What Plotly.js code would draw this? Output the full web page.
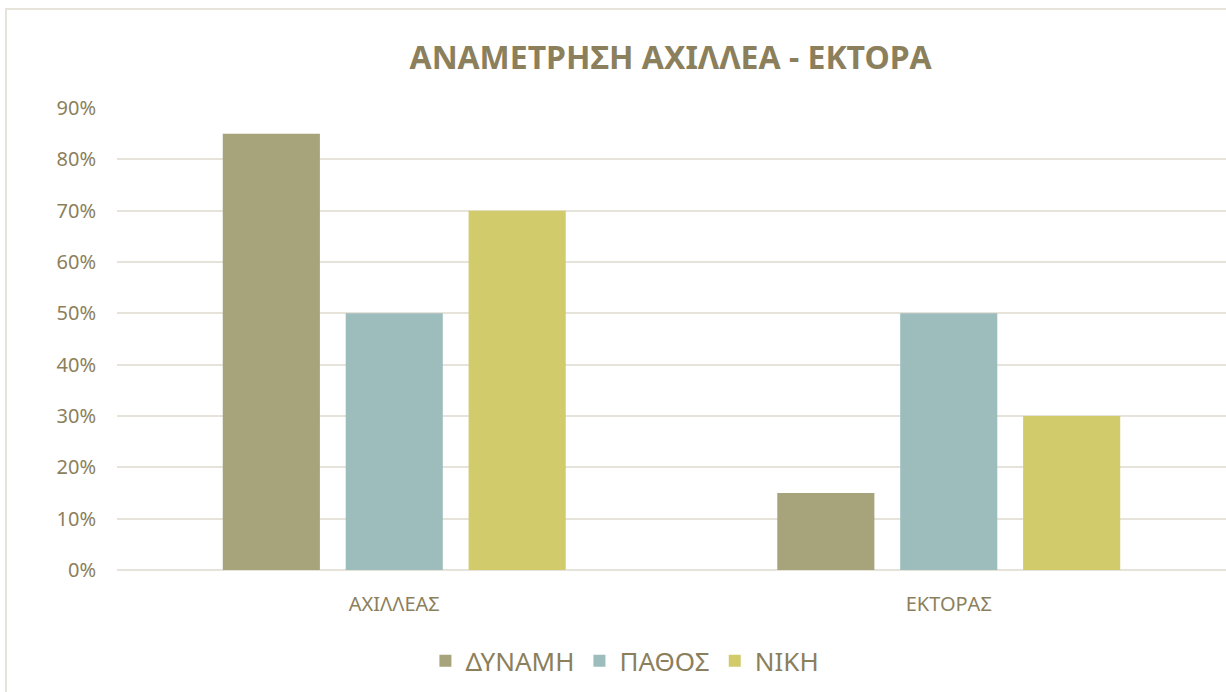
<!DOCTYPE html>
<html>
<head>
<meta charset="utf-8">
<script src="https://cdn.plot.ly/plotly-3.0.1.min.js"></script>
<style>
  html, body { margin: 0; padding: 0; background: #ffffff; overflow: hidden; }
  #frame { position: absolute; left: 5px; top: 8px; width: 1240px; height: 700px; border-left: 2px solid #E6E3DA; border-top: 2px solid #E6E3DA; box-sizing: border-box; pointer-events: none; }
  #chart { position: absolute; left: 0; top: 0; width: 1226px; height: 692px; }
</style>
</head>
<body>
<div id="chart"></div>
<div id="frame"></div>
<script>
const categories = ["ΑΧΙΛΛΕΑΣ", "ΕΚΤΟΡΑΣ"];
const seriesNames = ["ΔΥΝΑΜΗ", "ΠΑΘΟΣ", "ΝΙΚΗ"];
const dynami = [0.85, 0.15];
const pathos = [0.50, 0.50];
const niki = [0.70, 0.30];
const yTickVals = [0, 0.1, 0.2, 0.3, 0.4, 0.5, 0.6, 0.7, 0.8, 0.9];
const chartTitle = "ΑΝΑΜΕΤΡΗΣΗ ΑΧΙΛΛΕΑ - ΕΚΤΟΡΑ";

const colors = ["#A7A37A", "#9DBDBC", "#D2CB6C"];
const textColor = "#8C7F5C";
const gridColor = "#E6E3DA";
const fontFam = "'Noto Sans', 'Open Sans', sans-serif";

const values = [dynami, pathos, niki];
const traces = values.map((v, i) => ({
  type: "bar",
  name: seriesNames[i],
  x: categories,
  y: v,
  marker: { color: colors[i], line: { width: 0 } },
  hoverinfo: "none"
}));

const layout = {
  width: 1226,
  height: 692,
  paper_bgcolor: "rgba(0,0,0,0)",
  plot_bgcolor: "rgba(0,0,0,0)",
  margin: { l: 117, r: 0, t: 108, b: 122 },
  barmode: "group",
  bargap: 0.335,
  bargroupgap: 0.21,
  title: {
    text: "<b>" + chartTitle + "</b>",
    font: { family: fontFam, size: 32, color: textColor },
    x: 0.547, xanchor: "center", xref: "container",
    y: 0.917, yanchor: "middle", yref: "container"
  },
  xaxis: {
    type: "category",
    range: [-0.5, 1.5],
    showgrid: false,
    zeroline: false,
    showline: false,
    ticks: "",
    tickfont: { family: fontFam, size: 20, color: textColor },
    ticklabelstandoff: 20
  },
  yaxis: {
    range: [0, 0.9],
    tickvals: yTickVals,
    tickformat: ".0%",
    showgrid: true,
    gridcolor: gridColor,
    gridwidth: 2,
    zeroline: true,
    zerolinecolor: gridColor,
    zerolinewidth: 2,
    showline: false,
    ticks: "",
    ticklabelstandoff: 20,
    tickfont: { family: fontFam, size: 20, color: textColor }
  },
  showlegend: true,
  legend: {
    orientation: "h",
    x: 0.458, xanchor: "center", xref: "paper",
    y: 0.045, yanchor: "middle", yref: "container",
    font: { family: fontFam, size: 26, color: textColor },
    itemsizing: "constant",
    traceorder: "normal"
  }
};

Plotly.newPlot("chart", traces, layout, { staticPlot: true, displayModeBar: false });
</script>
</body>
</html>
